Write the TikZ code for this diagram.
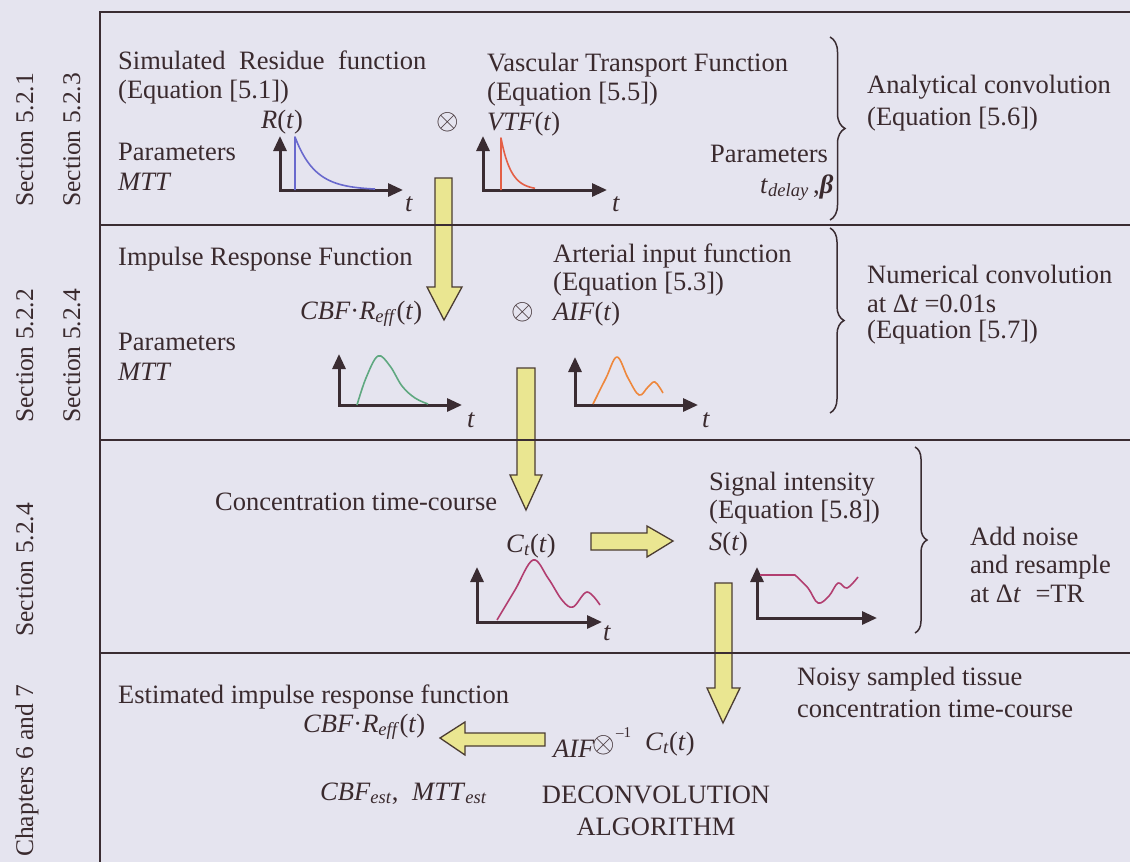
\RequirePackage{fix-cm}
\documentclass[tikz,border=0pt]{standalone}
\usepackage{fontspec}
\setmainfont{Liberation Serif}
\usetikzlibrary{arrows.meta,decorations.pathreplacing}
\definecolor{bg}{RGB}{229,228,239}
\definecolor{ink}{RGB}{58,42,46}
\definecolor{rulec}{RGB}{58,44,50}
\definecolor{arrfill}{RGB}{234,230,145}
\definecolor{arrline}{RGB}{75,60,50}
\definecolor{cblue}{RGB}{105,105,205}
\definecolor{cred}{RGB}{228,95,70}
\definecolor{cgreen}{RGB}{95,168,128}
\definecolor{corange}{RGB}{238,135,60}
\definecolor{cmag}{RGB}{178,62,112}
\newcommand{\otim}{{\fontsize{29}{30}\selectfont$\otimes$}}
\newcommand{\ti}[1]{\textit{#1}}
\begin{document}
\begin{tikzpicture}[x=1pt,y=-1pt,
  txt/.style={anchor=base west,inner sep=0pt,text=ink,font=\fontsize{26.5}{30}\selectfont},
  ctxt/.style={txt,anchor=base},
  sym/.style={anchor=center,inner sep=0pt,text=ink},
  sidelabel/.style={anchor=base west,inner sep=0pt,text=ink,rotate=90,font=\fontsize{25.5}{30}\selectfont},
  framerule/.style={draw=rulec,line width=2pt},
  axisarrow/.style={draw=rulec,line width=3pt,line join=miter,
     {Triangle[length=15pt,width=13pt]}-{Triangle[length=15pt,width=13pt]}},
  plotline/.style={line width=1.6pt,line join=round},
  blockarrow/.style={fill=arrfill,draw=arrline,line width=1.3pt,line join=miter},
  brc/.style={draw=rulec,line width=1.5pt,decorate,decoration={brace,amplitude=#1}},
]
\fill[bg] (0,0) rectangle (1130,862);
\useasboundingbox (0,0) rectangle (1130,862);

% ---------- side labels
\node[sidelabel] (s1) at (33,207) {Section 5.2.1};
\node[sidelabel] (s2) at (80,207) {Section 5.2.3};
\node[sidelabel] (s3) at (33,423) {Section 5.2.2};
\node[sidelabel] (s4) at (80,423) {Section 5.2.4};
\node[sidelabel] (s5) at (33,637) {Section 5.2.4};
\node[sidelabel] (s6) at (33,857) {Chapters 6 and 7};

% ---------- block arrows (drawn under the rules)
\draw[blockarrow] (435,178) -- (452,178) -- (452,287) -- (462,287) -- (444,320) -- (427,287) -- (435,287) -- cycle;
\draw[blockarrow] (517,368) -- (535,368) -- (535,475) -- (542,475) -- (526,510) -- (510,475) -- (517,475) -- cycle;
\draw[blockarrow] (591,533) -- (647,533) -- (647,526) -- (673,541) -- (647,557) -- (647,550) -- (591,550) -- cycle;
\draw[blockarrow] (715,583) -- (732,583) -- (732,688) -- (740,688) -- (723,723) -- (707,688) -- (715,688) -- cycle;
\draw[blockarrow] (545,733) -- (465,733) -- (465,722) -- (440,738) -- (465,755) -- (465,746) -- (545,746) -- cycle;

% ---------- frame
\draw[framerule] (100,862) -- (100,12) -- (1130,12);
\draw[framerule] (100,225) -- (1130,225);
\draw[framerule] (100,440) -- (1130,440);
\draw[framerule] (100,653) -- (1130,653);

% ---------- block 1
\node[txt] (b1a) at (118,69) {Simulated\hspace{13.5pt}Residue\hspace{13.5pt}function};
\node[txt] (b1b) at (118,98) {(Equation [5.1])};
\node[txt] (b1c) at (261,128) {\ti{R}(\ti{t})};
\node[txt] (b1d) at (118,160) {Parameters};
\node[txt] (b1e) at (118,190) {\ti{MTT}};
\draw[axisarrow] (280,136) -- (280,190) -- (403,190);
\draw[plotline,cblue] (295,190) -- (295,137) -- plot[domain=295:375,samples=40] (\x,{190-53*exp(-(\x-295)/20)});
\node[txt] (b1t) at (405,211) {\ti{t}};
\node[sym] (x1) at (448,122) {\otim};
\node[txt] (b1f) at (487,71) {Vascular Transport Function};
\node[txt] (b1g) at (487,100) {(Equation [5.5])};
\node[txt] (b1h) at (487,130) {\ti{VTF}(\ti{t})};
\draw[axisarrow] (483,136) -- (483,190) -- (607,190);
\draw[plotline,cred] (501,190) -- (501,138) -- plot[domain=501:535,samples=30] (\x,{190-52*exp(-(\x-501)/10)});
\node[txt] (b1t2) at (612,211) {\ti{t}};
\node[txt] (b1i) at (710,162) {Parameters};
\node[txt] (b1j) at (760,193) {\ti{t}\textsubscript{\ti{delay}}\,,\textbf{\ti{β}}};
\draw[brc=15] (830,37) -- (830,220);
\node[txt] (b1k) at (867,93) {Analytical convolution};
\node[txt] (b1l) at (867,125) {(Equation [5.6])};

% ---------- block 2
\node[txt] (b2a) at (118,265) {Impulse Response Function};
\node[txt] (b2b) at (300,319) {\ti{CBF}·\ti{R}\textsubscript{\ti{eff}}(\ti{t})};
\node[txt] (b2c) at (118,350) {Parameters};
\node[txt] (b2d) at (118,380) {\ti{MTT}};
\draw[axisarrow] (339,354) -- (339,405) -- (462,405);
\draw[plotline,cgreen] plot[smooth,tension=0.6] coordinates {(357,405) (366,378) (378,356) (390,366) (402,386) (415,398) (428,404)};
\node[txt] (b2t) at (467,427) {\ti{t}};
\node[sym] (x2) at (523,312) {\otim};
\node[txt] (b2e) at (553,262) {Arterial input function};
\node[txt] (b2f) at (553,290) {(Equation [5.3])};
\node[txt] (b2g) at (553,320) {\ti{AIF}(\ti{t})};
\draw[axisarrow] (575,357) -- (575,405) -- (698,405);
\draw[plotline,corange] plot[smooth,tension=0.6] coordinates {(593,404) (606,378) (617,357) (628,378) (639,395) (648,387) (655,382) (663,393)};
\node[txt] (b2t2) at (702,427) {\ti{t}};
\draw[brc=14] (830,228) -- (830,413);
\node[txt] (b2h) at (867,283) {Numerical convolution};
\node[txt] (b2i) at (867,312) {at Δ\ti{t} =0.01s};
\node[txt] (b2j) at (867,338) {(Equation [5.7])};

% ---------- block 3
\node[txt] (b3a) at (215,510) {Concentration time-course};
\node[txt] (b3b) at (506,552) {\ti{C}\textsubscript{\ti{t}}(\ti{t})};
\draw[axisarrow] (477,567) -- (477,622) -- (602,622);
\draw[plotline,cmag] plot[smooth,tension=0.6] coordinates {(497,620) (515,590) (533,560) (548,578) (562,600) (573,607) (587,592) (600,605)};
\node[txt] (b3t) at (603,640) {\ti{t}};
\node[txt] (b3c) at (709,490) {Signal intensity};
\node[txt] (b3d) at (709,518) {(Equation [5.8])};
\node[txt] (b3e) at (709,550) {\ti{S}(\ti{t})};
\draw[axisarrow] (757,567) -- (757,618) -- (877,618);
\draw[plotline,cmag] (760,575) -- (795,575) plot[smooth,tension=0.6] coordinates {(795,575) (808,588) (818,603) (829,596) (838,583) (847,588) (858,577)};
\draw[brc=12] (915,447) -- (915,633);
\node[txt] (b3f) at (970,545) {Add noise};
\node[txt] (b3g) at (970,573) {and resample};
\node[txt] (b3h) at (970,602) {at Δ\ti{t}\hspace{8pt} =TR};

% ---------- block 4
\node[txt] (b4a) at (797,685) {Noisy sampled tissue};
\node[txt] (b4b) at (797,717) {concentration time-course};
\node[txt] (b4c) at (118,703) {Estimated impulse response function};
\node[txt] (b4d) at (303,732) {\ti{CBF}·\ti{R}\textsubscript{\ti{eff}}(\ti{t})};
\node[txt] (b4e) at (553,757) {\ti{AIF}};
\node[sym] (x3) at (604,745) {\otim};
\node[txt,font=\fontsize{15}{18}\selectfont] (b4m) at (616,737) {–1};
\node[txt] (b4f) at (645,750) {\ti{C}\textsubscript{\ti{t}}(\ti{t})};
\node[txt] (b4g) at (320,800) {\ti{CBF}\textsubscript{\ti{est}},};
\node[txt] (b4h) at (412,800) {\ti{MTT}\textsubscript{\ti{est}}};
\node[ctxt] (b4i) at (656,803) {DECONVOLUTION};
\node[ctxt] (b4j) at (656,835) {ALGORITHM};
\end{tikzpicture}
\end{document}
